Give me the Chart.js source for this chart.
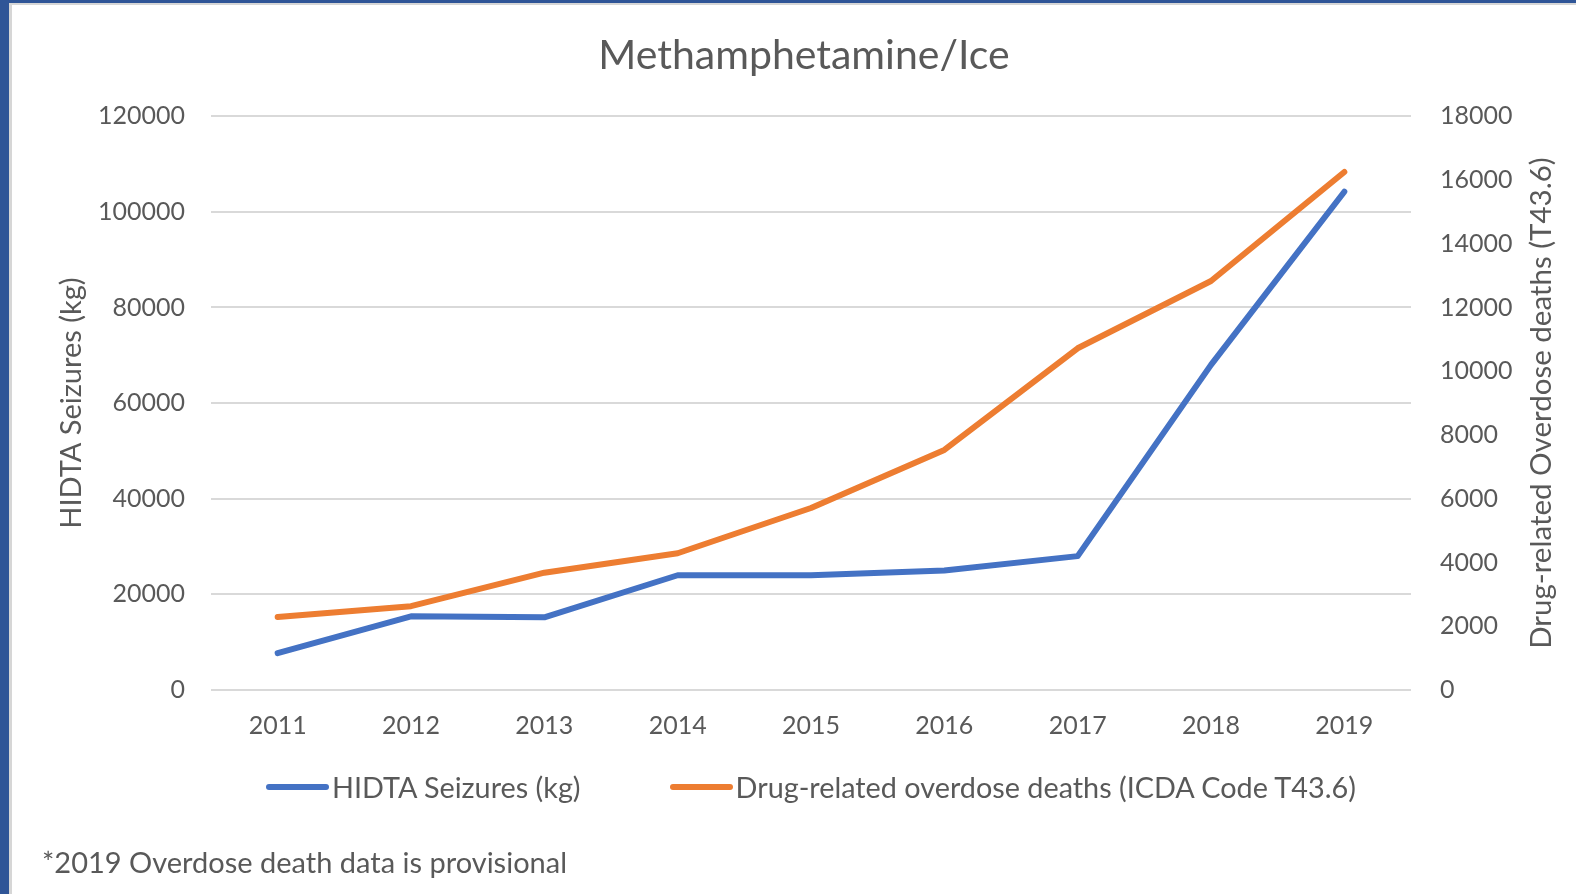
<!DOCTYPE html>
<html lang="en">
<head>
<meta charset="UTF-8">
<title>Methamphetamine/Ice</title>
<script src="https://cdn.jsdelivr.net/npm/chart.js"></script>
<style>
    html, body {
        margin: 0;
        padding: 0;
        background: #fff;
    }
    body {
        width: 1576px;
        height: 894px;
        position: relative;
        overflow: hidden;
        font-family: Lato, "Open Sans", sans-serif;
        color: #595959;
    }
    .frame {
        position: absolute;
        left: 0; top: 0;
        width: 1576px; height: 894px;
        box-sizing: border-box;
        border-left: 9px solid #2F5597;
        border-top: 3px solid #2F5597;
    }
    .frame-inner {
        position: absolute;
        left: 0; top: 0; right: 0; bottom: 0;
        border-left: 3px solid #D6D6D6;
        border-top: 2px solid #D6D6D6;
    }
    #chart {
        position: absolute;
        left: 0; top: 0;
    }
    .legend {
        position: absolute;
        left: 211px;
        width: 1200px;
        top: 770px;
        height: 34px;
        display: flex;
        justify-content: center;
        align-items: center;
        gap: 89px;
        font-size: 28.8px;
    }
    .legend-item {
        display: flex;
        align-items: center;
        white-space: nowrap;
    }
    .legend-line {
        width: 63px;
        height: 6px;
        border-radius: 3px;
        margin-right: 3px;
    }
    .note {
        position: absolute;
        left: 42px;
        top: 845px;
        font-size: 29px;
        line-height: 34px;
    }
</style>
</head>
<body>
    <div class="frame"><div class="frame-inner"></div></div>
    <canvas id="chart" width="1576" height="894"></canvas>
    <div class="legend" id="legend"></div>
    <div class="note">*2019 Overdose death data is provisional</div>

<script>
    // data
    const years = ['2011', '2012', '2013', '2014', '2015', '2016', '2017', '2018', '2019'];
    const seizuresKg = [7700, 15400, 15200, 24000, 24000, 25000, 28000, 68000, 104200];
    const overdoseDeaths = [2290, 2630, 3680, 4290, 5710, 7530, 10720, 12830, 16250];

    // axis ranges
    const leftMax = 120000, leftStep = 20000;
    const rightMax = 18000, rightStep = 2000;

    const textColor = '#595959';
    const family = 'Lato, "Open Sans", sans-serif';

    // right axis title reads bottom-to-top like the left one
    const rightTitle = {
        id: 'rightTitle',
        afterDraw(chart) {
            const s = chart.scales.y2;
            const t = s.options.title;
            const area = chart.chartArea;
            const ctx = chart.ctx;
            ctx.save();
            ctx.translate(s.right - 35, (area.top + area.bottom) / 2);
            ctx.rotate(-Math.PI / 2);
            ctx.font = t.font.size + 'px ' + family;
            ctx.fillStyle = t.color;
            ctx.textAlign = 'center';
            ctx.textBaseline = 'middle';
            ctx.fillText(t.text, 0, 0);
            ctx.restore();
        }
    };

    const chart = new Chart(document.getElementById('chart'), {
        type: 'line',
        data: {
            labels: years,
            datasets: [{
                label: 'HIDTA Seizures (kg)',
                data: seizuresKg,
                yAxisID: 'y',
                borderColor: '#4472C4',
                backgroundColor: '#4472C4'
            }, {
                label: 'Drug-related overdose deaths (ICDA Code T43.6)',
                data: overdoseDeaths,
                yAxisID: 'y2',
                borderColor: '#ED7D31',
                backgroundColor: '#ED7D31'
            }]
        },
        options: {
            responsive: false,
            animation: false,
            elements: {
                line: { borderWidth: 6, tension: 0, borderCapStyle: 'round', borderJoinStyle: 'round' },
                point: { radius: 0, hoverRadius: 0 }
            },
            layout: { padding: { left: 32, right: 0, top: 0, bottom: 144 } },
            plugins: {
                legend: { display: false },
                tooltip: { enabled: false },
                title: {
                    display: true,
                    text: 'Methamphetamine/Ice',
                    color: textColor,
                    font: { family: family, size: 41, weight: 'normal' },
                    padding: { top: 31, bottom: 36 }
                }
            },
            scales: {
                x: {
                    offset: true,
                    grid: { display: false },
                    border: { display: false },
                    ticks: {
                        color: textColor,
                        font: { family: family, size: 25 },
                        padding: 13,
                        maxRotation: 0,
                        autoSkip: false
                    },
                    afterFit: s => { s.height = 60; }
                },
                y: {
                    position: 'left',
                    min: 0,
                    max: leftMax,
                    border: { display: false },
                    grid: { color: '#D9D9D9', lineWidth: 2, drawTicks: false },
                    ticks: {
                        stepSize: leftStep,
                        color: textColor,
                        font: { family: family, size: 25 },
                        padding: 26,
                        callback: v => String(v)
                    },
                    title: {
                        display: true,
                        text: 'HIDTA Seizures (kg)',
                        color: textColor,
                        font: { family: family, size: 29 },
                        padding: { top: 22, bottom: 0 }
                    },
                    afterFit: s => { s.width = 179; }
                },
                y2: {
                    position: 'right',
                    min: 0,
                    max: rightMax,
                    border: { display: false },
                    grid: { display: false, drawTicks: false },
                    ticks: {
                        stepSize: rightStep,
                        color: textColor,
                        font: { family: family, size: 25 },
                        padding: 29,
                        callback: v => String(v)
                    },
                    title: {
                        display: false,
                        text: 'Drug-related Overdose deaths (T43.6)',
                        color: textColor,
                        font: { family: family, size: 29.5 }
                    },
                    afterFit: s => { s.width = 165; }
                }
            }
        },
        plugins: [rightTitle]
    });

    // legend below the chart, built from the datasets
    const legend = document.getElementById('legend');
    chart.data.datasets.forEach(ds => {
        const item = document.createElement('div');
        item.className = 'legend-item';
        item.innerHTML = `<span class="legend-line" style="background:${ds.borderColor}"></span><span>${ds.label}</span>`;
        legend.appendChild(item);
    });
</script>
</body>
</html>
